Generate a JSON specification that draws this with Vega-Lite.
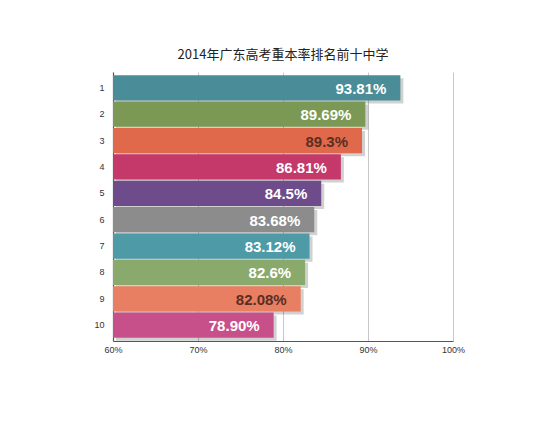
{
  "$schema": "https://vega.github.io/schema/vega-lite/v6.json",
  "autosize": {"type": "none"},
  "padding": {"left": 113, "top": 72, "right": 97, "bottom": 84},
  "width": 340,
  "height": 269,
  "background": "white",
  "title": {
    "text": "2014年广东高考重本率排名前十中学",
    "font": "Noto Sans CJK SC",
    "fontSize": 13,
    "fontWeight": "normal",
    "color": "#222",
    "anchor": "middle",
    "offset": 10
  },
  "config": {
    "view": {"stroke": null},
    "axis": {"labelFont": "Liberation Sans", "labelColor": "#333"}
  },
  "data": {
    "values": [
      {"rank": 1, "rate": 93.81, "label": "93.81%"},
      {"rank": 2, "rate": 89.69, "label": "89.69%"},
      {"rank": 3, "rate": 89.3, "label": "89.3%"},
      {"rank": 4, "rate": 86.81, "label": "86.81%"},
      {"rank": 5, "rate": 84.5, "label": "84.5%"},
      {"rank": 6, "rate": 83.68, "label": "83.68%"},
      {"rank": 7, "rate": 83.12, "label": "83.12%"},
      {"rank": 8, "rate": 82.6, "label": "82.6%"},
      {"rank": 9, "rate": 82.08, "label": "82.08%"},
      {"rank": 10, "rate": 78.9, "label": "78.90%"}
    ]
  },
  "encoding": {
    "y": {
      "field": "rank",
      "type": "ordinal",
      "sort": "ascending",
      "scale": {"paddingInner": 0.04, "paddingOuter": 0.12},
      "axis": {
        "title": null,
        "ticks": false,
        "labelPadding": 9,
        "labelFontSize": 9,
        "domainColor": "#555",
        "domainWidth": 1.2
      }
    }
  },
  "layer": [
    {
      "mark": {"type": "bar", "color": "#000", "opacity": 0.18, "xOffset": 3, "x2Offset": 3, "yOffset": 3, "y2Offset": 3},
      "encoding": {
        "x": {
          "field": "rate",
          "type": "quantitative",
          "scale": {"domain": [60, 100], "zero": false},
          "axis": {
            "title": null,
            "values": [60, 70, 80, 90, 100],
            "labelExpr": "datum.value + '%'",
            "labelFontSize": 9,
            "labelFlush": false,
            "ticks": false,
            "labelPadding": 4,
            "grid": true,
            "gridColor": "#c8c8c8",
            "domainColor": "#555",
            "domainWidth": 1.2
          }
        },
        "x2": {"datum": 60}
      }
    },
    {
      "mark": {"type": "bar"},
      "encoding": {
        "x": {"field": "rate", "type": "quantitative"},
        "x2": {"datum": 60},
        "color": {
          "field": "rank",
          "type": "ordinal",
          "legend": null,
          "scale": {
            "domain": [1, 2, 3, 4, 5, 6, 7, 8, 9, 10],
            "range": ["#4a8d98", "#7b9954", "#e0694b", "#c4386a", "#6e4b8b", "#8c8c8c", "#4e9aa6", "#8aa96c", "#e87e62", "#c8508a"]
          }
        }
      }
    },
    {
      "mark": {"type": "text", "align": "right", "baseline": "middle", "dx": -14, "dy": 1, "font": "Liberation Sans", "fontSize": 15, "fontWeight": "bold"},
      "encoding": {
        "x": {"field": "rate", "type": "quantitative"},
        "text": {"field": "label"},
        "color": {
          "condition": {"test": "datum.rank == 3 || datum.rank == 9", "value": "#5a2e22"},
          "value": "#ffffff"
        }
      }
    }
  ]
}
